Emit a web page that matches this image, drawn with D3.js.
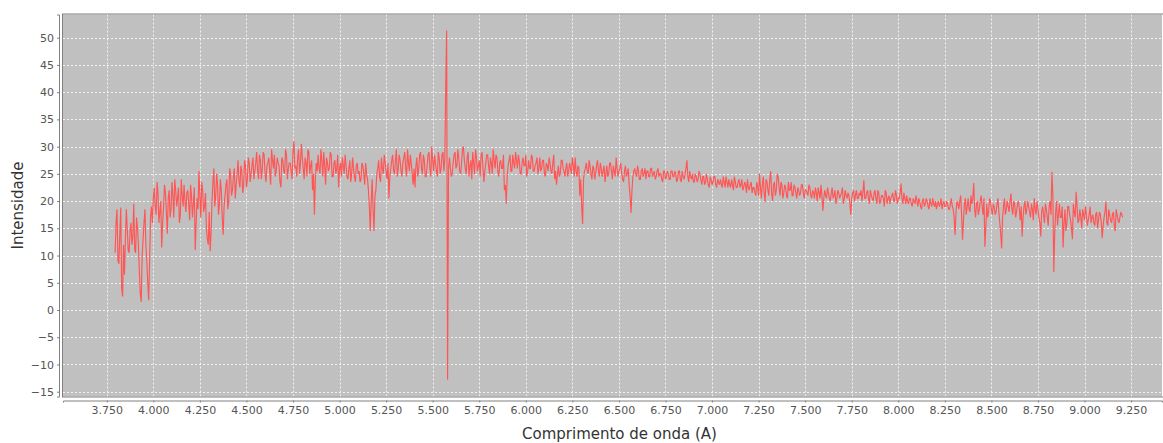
<!DOCTYPE html>
<html>
<head>
<meta charset="utf-8">
<script src="https://cdnjs.cloudflare.com/ajax/libs/d3/7.8.5/d3.min.js"></script>
<style>
  body { margin: 0; background: #fff; }
  svg { display: block; }
</style>
</head>
<body>
<div id="chart"></div>
<script>
// spectrum sampling (Angstrom): main samples at 3795 + 10*i, half samples 5 A later
var lambdaStart = 3795,
    lambdaStep = 10,
    halfOffset = 5;

// intensity, one row per 250 A
var intensity = [
  10.5,18.5,8.5,18.8,2.5,6.5,18.5,11,14.5,12,19.5,10.5,15,7,1.5,13,18.5,9,1.8,17,16,22.5,17.5,21.5,18,           // 3795
  11.5,19,21.5,14,22,18.5,21,24,19,22.5,17.5,21,23,18,22,16.5,21,19.5,11,20.5,25.5,17,22,19,15,                   // 4045
  12,10.8,20,26,21,23,19.5,22,13.8,21,24,20,25,22,26,23,27.5,22.5,25.5,23,26.5,24,27,25,28,                       // 4295
  25.5,29,24,27.5,26,28.5,23.5,27,25.5,29.5,26,24.5,28,26.5,22.5,27.5,25,28.5,26,27,24,31,26.5,28,25,             // 4545
  30.5,26,28,24.5,29,26.5,22,17.5,27,28.5,25,27.5,29,23,27,26,28.5,24.5,27.5,26,22.5,27,28,25,26.5,               // 4795
  24,27.5,25,26,23.5,27,25.5,24,26.5,23,25,22,14.5,24,14.5,22,26,24.5,28,25,27,24,20.5,26,28.5,                   // 5045
  25,29.5,26,27.5,24.5,28,26,29.5,25.5,27,23,22.5,28,26,29,25,27.5,24.5,28.5,26,30,25.5,27,24.5,28,               // 5295
  26,29,27.5,51.3,26,26,25,28.5,26,29.5,25.5,27,30,26,28,24.5,27.5,29,25,28,26.5,24.5,29,23.5,27,                 // 5545
  28.5,25,27,29.5,26,28,24.5,27.5,26,22,19.5,26.5,28.5,25.5,27,29,26,27.5,25,28,26.5,24.5,27.5,26,28,             // 5795
  25.5,27,25,28,26,27.5,24.5,26.5,28,25.5,27,24,23,26.5,25,27.5,25.5,26,24.5,27,25,26.5,28,24.5,26,               // 6045
  24,15.8,25.5,27,25,26.5,24,26,25,27.5,24.5,26,25.5,23.5,26.5,25,27,24,25.5,28,24.5,26,25,23.5,26.5,             // 6295
  25,23,17.8,24.5,26,24.5,25.5,24,26,25,24,25.5,24.5,26,25,24,25.5,24.5,25,23.5,25.5,24.5,25,24,25.5,             // 6545
  24.5,25,24,25.5,23.5,24.5,25,27.5,23.5,24.5,25,23.5,24.5,24,25,23,24.5,23.5,24,22.5,24,23.5,24.5,22.5,23.5,     // 6795
  24,22.5,23.5,24.5,22.5,23,24,22,23.5,22.5,24,23,22,23.5,21.5,22.5,23,21.5,22.5,21,22.5,25,20.5,24.5,19.8,       // 7045
  23.5,21,25.5,20,23.5,22,24.5,21,23,21.5,22.5,20.5,22,23.5,21,22.5,20.5,22,21.5,23,20.5,22,21,22.5,20.5,         // 7295
  21.5,22.5,20,21.5,23,18.2,22,20.5,21.5,20,22.5,21,19.5,22,20.5,21.5,19.5,22,20.5,21,17.5,21.5,20,22,20.5,       // 7545
  21,20,23.8,20.5,22,19.5,21,20,22,19.5,21.5,20,21,19,21.5,20.5,19.5,21,20,22,19.5,20.5,23.2,19.5,20.5,           // 7795
  21,19.5,20.5,19,20,21,19,20,18.5,20.5,19.5,20,18.5,19.5,20.5,19,18.5,20,19.5,18.5,20,19,19.5,18.5,20.5,         // 8045
  18.5,13.8,20,18.5,21,12.9,19.5,17.5,20.5,18,19.5,23.3,17,20,18.5,21,17.5,11.6,19.5,18,20,17.5,19,18,20.5,       // 8295
  16,11.3,19,17.5,20,18,21.4,17.5,19.5,18,20,16.5,13.5,19,17.5,20,18,19.5,16.5,18.5,20,17,13.5,19,16,             // 8545
  18.5,15.5,20,25.4,7,18,15.5,19.5,17,11.5,18.5,16,19,16.5,13,18,21.7,16,18.5,15,17.5,19,15.5,17.5,16,            // 8795
  17.5,15.5,18,16.5,17.5,13.2,17,19.9,15.5,17.5,16,18,14.5,17.5,16,18,17                                          // 9045
];

// in-between samples (3800, 3810, ...), also
var intensityHalf = [
  16,9,14,4,12,13,15,10.5,16,13.5,11,17,12,3,10,16,12,5,9,19,20.5,19,23.5,16,20,                                  // 3800
  16,23,18,20.5,17,23.5,17,22,20.5,16,24,19,20,21.5,19.5,23,17,22.5,16,18.5,21,23.5,18,21.5,13,                   // 4050
  18,14,23.5,19,25,17.5,24,17,19,23,18.5,26,21,24.5,20.5,25,23.5,26.5,21.5,27.5,22.5,28,23.5,26.5,24,             // 4300
  27,25.5,28.5,24,29,25,26.5,28,23,27.5,28.5,25.5,27,23.5,28,25.5,29.5,24,27,25.5,29,26,24.5,29.5,27,             // 4550
  28,24,27,29.5,25,27.5,25,24,25.5,26,29.5,24.5,26.5,28,25.5,29,24.5,27,25,28.5,26,24.5,26.5,28.5,24.5,           // 4800
  26,23.5,28,24.5,26.5,25,23.5,27,25,27,24,19,20,18.5,21,25,27.5,23.5,26,28.5,25.5,27,24.5,27.5,25.5,             // 5050
  27.5,24.5,28.5,25.5,27,29,24.5,27,28.5,25,26,26.5,24.5,28.5,26,28.5,24.5,26.5,29,24.5,27.5,28.5,25.5,29,25,     // 5300
  28.5,25.5,41,-12.8,28,24.5,27,29,26.5,28,25,29.5,27.5,25,29,26.5,24,27,29.5,25.5,27.5,28.5,26,25.5,28.5,        // 5550
  26.5,28,25,27.5,28.5,25.5,27,26,28.5,23,24.5,27.5,25.5,28.5,26,27.5,28.5,25,27,26.5,28.5,25.5,26,28.5,25.5,     // 5800
  26.5,28,26,25.5,27.5,25,27,25.5,27,25,28.5,25.5,25,24.5,27.5,26,24.5,27,25.5,26,28,24.5,25.5,26.5,21,           // 6050
  19,24,26,25.5,27.5,25,26.5,24,26.5,25.5,27,24.5,26.5,25,24.5,27,25.5,26.5,24.5,26,25.5,27,24,25.5,24.5,         // 6300
  26,21,22,25.5,25,26.5,24,25.5,24.5,26,25.5,24.5,26,24.5,25.5,24.5,26,25,24,25.5,24,25.5,24,25.5,24.5,           // 6550
  25.5,23.5,25.5,24,25.5,24,26,24.5,25.5,24,23.5,25,23.5,25.5,24,24.5,23,25,23,24.5,23,24.5,23,24,23,             // 6800
  23,24.5,22.5,23.5,24,22.5,23,24.5,22.5,23.5,22.5,24,22.5,23,24,22,23.5,22.5,21.5,23.5,21,22.5,23,21.5,24,       // 7050
  22,24,21.5,23,21,25,22.5,23.5,20.5,23,21,23.5,22,21,23,21.5,22.5,21,23,21.5,22,21.5,23,21,22,                   // 7300
  20.5,21.5,22.5,20.5,21,20.5,21,22.5,20.5,21.5,20.5,22,20.5,21.5,21,22.5,20.5,21,21.5,19.5,20.5,22,21,20.5,21.5, // 7550
  22,21.5,20.5,21.5,20.5,22,20.5,21.5,20.5,22,19.5,21,20.5,22,19.5,21,20.5,21.5,20,21,20.5,21.5,20.5,21.5,19.5,   // 7800
  20,20.5,19.5,20.5,19.5,20,20.5,19,20,19,20.5,19,20.5,19,19.5,20,19.5,19,20.5,19.5,19,20,18.5,19.5,19,           // 8050
  17,18,19.5,20,17.5,16.5,20.5,19,18.5,21,20.5,18.5,19.5,17.5,20,19,20.5,15,17,20.5,18.5,19.5,17.5,19.5,18,       // 8300
  14,17,20.5,18.5,19,20,18.5,20,17,19.5,18.5,19,17,20,18.5,19,17,18.5,20.5,17.5,18.5,16,18,17.5,19.5,             // 8550
  17,19,17.5,21,14,20,17.5,17,19,16,14.5,19,17.5,15,19.5,17,19,16.5,17,18.5,16.5,17.5,16.5,19,17,                 // 8800
  16,17.5,15,18,16,15.5,18,16,18.5,16.5,17.5,15.5,18.5,16.5,17,17.5                                              // 9050
];

// tick labels
var xTicks = d3.range(3750, 9251, 250);
var yTicks = d3.range(-15, 51, 5);

var W = 1163, H = 443;
var plot = {left: 63, right: 1162, top: 14.5, bottom: 396.5};

// interleave the two sample sets into one series
var spectrum = [];
intensity.forEach(function(v, i) {
  spectrum.push({lambda: lambdaStart + i * lambdaStep, value: v});
  if (i < intensityHalf.length) {
    spectrum.push({lambda: lambdaStart + halfOffset + i * lambdaStep, value: intensityHalf[i]});
  }
});

var svg = d3.select("#chart").append("svg")
    .attr("width", W)
    .attr("height", H);

var x = d3.scaleLinear()
    .domain([3515, 9416])
    .range([plot.left, plot.right]);

var y = d3.scaleLinear()
    .domain([-15.88, 54.26])
    .range([plot.bottom, plot.top]);

var ptBR = d3.formatLocale({decimal: ",", thousands: ".", grouping: [3], currency: ["", ""]});
var fmtX = ptBR.format(",.0f");

// plot background
svg.append("rect")
    .attr("x", plot.left)
    .attr("y", plot.top)
    .attr("width", plot.right - plot.left)
    .attr("height", plot.bottom - plot.top)
    .attr("fill", "#c0c0c0");

// grid
svg.append("g")
  .selectAll("line")
  .data(xTicks)
  .enter().append("line")
    .attr("x1", function(d) { return Math.round(x(d)) + 0.5; })
    .attr("x2", function(d) { return Math.round(x(d)) + 0.5; })
    .attr("y1", plot.top)
    .attr("y2", plot.bottom)
    .attr("stroke", "#ffffff")
    .attr("stroke-width", 0.8)
    .attr("stroke-dasharray", "2,2");

svg.append("g")
  .selectAll("line")
  .data(yTicks)
  .enter().append("line")
    .attr("x1", plot.left)
    .attr("x2", plot.right)
    .attr("y1", function(d) { return Math.round(y(d)) + 0.5; })
    .attr("y2", function(d) { return Math.round(y(d)) + 0.5; })
    .attr("stroke", "#ffffff")
    .attr("stroke-width", 0.8)
    .attr("stroke-dasharray", "2,2");

// plot outline
svg.append("rect")
    .attr("x", plot.left - 0.5)
    .attr("y", plot.top - 0.5)
    .attr("width", plot.right - plot.left + 2)
    .attr("height", plot.bottom - plot.top + 1)
    .attr("fill", "none")
    .attr("stroke", "#808080")
    .attr("stroke-width", 1);

// spectrum
var line = d3.line()
    .x(function(d) { return x(d.lambda); })
    .y(function(d) { return y(d.value); });

svg.append("path")
    .datum(spectrum)
    .attr("fill", "none")
    .attr("stroke", "#ff5555")
    .attr("stroke-width", 1.15)
    .attr("d", line);

// axes
var xAxis = svg.append("g")
    .attr("transform", "translate(0," + (plot.bottom + 4) + ")")
    .call(d3.axisBottom(x).tickValues(xTicks).tickFormat(fmtX).tickSize(2).tickPadding(4));

var yAxis = svg.append("g")
    .attr("transform", "translate(" + (plot.left - 4) + ",0)")
    .call(d3.axisLeft(y).tickValues(yTicks).tickSize(2).tickPadding(3));

[xAxis, yAxis].forEach(function(a) {
  a.select(".domain").attr("stroke", "#808080");
  a.selectAll(".tick line").attr("stroke", "#808080");
  a.selectAll(".tick text")
    .attr("fill", "#555")
    .style("font-family", "DejaVu Sans, sans-serif")
    .style("font-size", "11px");
});

// axis titles
svg.append("text")
    .attr("x", (plot.left + plot.right) / 2 + 7)
    .attr("y", 439)
    .attr("text-anchor", "middle")
    .attr("fill", "#333")
    .style("font-family", "DejaVu Sans, sans-serif")
    .style("font-size", "15px")
    .text("Comprimento de onda (A)");

svg.append("text")
    .attr("transform", "translate(23," + ((plot.top + plot.bottom) / 2) + ") rotate(-90)")
    .attr("text-anchor", "middle")
    .attr("fill", "#333")
    .style("font-family", "DejaVu Sans, sans-serif")
    .style("font-size", "15px")
    .text("Intensidade");
</script>
</body>
</html>
